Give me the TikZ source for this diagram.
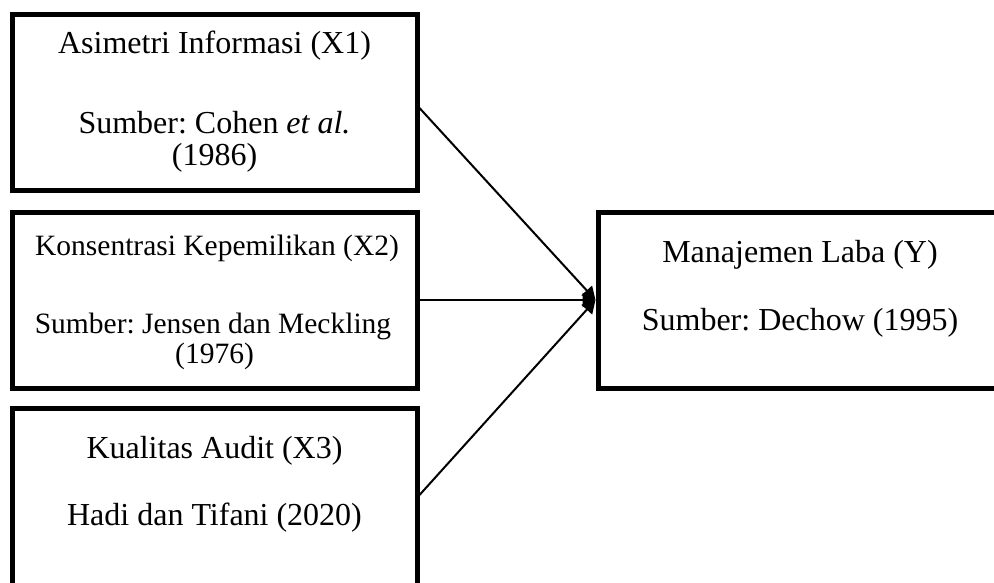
\documentclass[tikz,border=0pt]{standalone}
\usepackage{fontspec}
\setmainfont{Liberation Serif}
\usetikzlibrary{arrows.meta}
\frenchspacing
\begin{document}
\begin{tikzpicture}[x=1pt,y=-1pt,
  box/.style={draw,line width=5pt,minimum width=405pt,minimum height=176pt,inner sep=0pt},
  txt/.style={anchor=base,inner sep=0pt,font=\fontsize{32}{38}\selectfont},
  txts/.style={anchor=base,inner sep=0pt,font=\fontsize{29.5}{35}\selectfont},
  conn/.style={line width=2pt,-{Triangle[length=13pt,width=14pt]}}]
\useasboundingbox (0,0) rectangle (994,582);
% boxes
\node[box] (x1) at (214.5,102) {};
\node[box] (x2) at (214.5,300) {};
\node[box,minimum height=190pt] (x3) at (214.5,503) {};
\node[box,minimum width=404pt] (y) at (800,300) {};
% texts
\node[txt] (t11) at (214.5,53) {Asimetri Informasi (X1)};
\node[txt] (t12) at (214.5,133) {Sumber: Cohen \textit{et al.}};
\node[txt] (t13) at (214.5,165) {(1986)};
\node[txts] (t21) at (217,255) {Konsentrasi Kepemilikan (X2)};
\node[txts] (t22) at (213,333) {Sumber: Jensen dan Meckling};
\node[txts] (t23) at (214.5,363) {(1976)};
\node[txt] (t31) at (214.5,458) {Kualitas Audit (X3)};
\node[txt] (t32) at (214.5,525) {Hadi dan Tifani (2020)};
\node[txt] (ty1) at (800,262) {Manajemen Laba (Y)};
\node[txt] (ty2) at (800,330) {Sumber: Dechow (1995)};
% connectors
\coordinate (s1) at (419.5,108);
\coordinate (s3) at (419.5,495);
\draw[conn] (s1) -- (y.west);
\draw[conn] (x2.east) -- (y.west);
\draw[conn] (s3) -- (y.west);
\end{tikzpicture}
\end{document}
